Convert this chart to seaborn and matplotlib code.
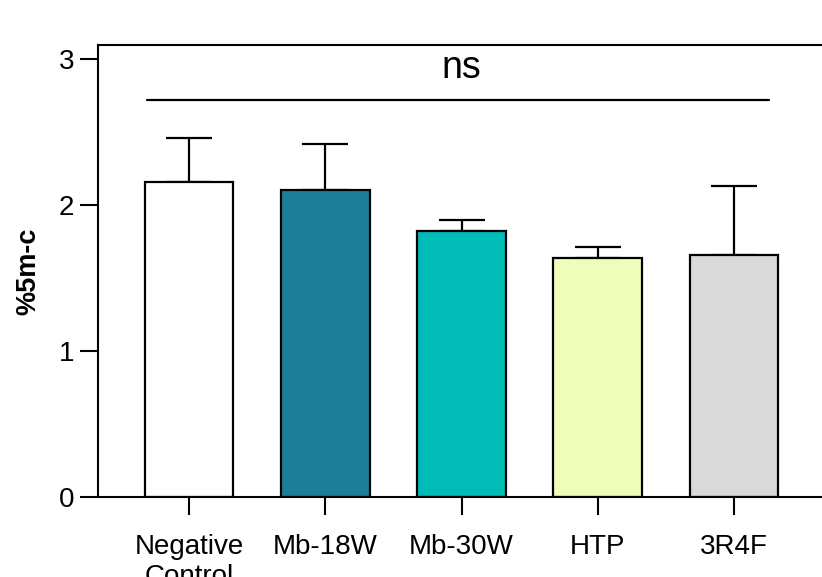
import matplotlib
matplotlib.use("Agg")
import matplotlib.pyplot as plt
import numpy as np
import pandas as pd
import seaborn as sns

groups = ["Negative\nControl", "Mb-18W", "Mb-30W", "HTP", "3R4F"]
means = [2.16, 2.105, 1.825, 1.64, 1.66]
sd_upper = [0.30, 0.315, 0.07, 0.075, 0.47]
colors = ["#ffffff", "#1b7f98", "#00bcb7", "#eefdb9", "#d9d9d9"]

sns.set_style("ticks")
plt.rcParams["font.family"] = ["Liberation Sans", "DejaVu Sans"]
plt.rcParams["text.color"] = "black"

df = pd.DataFrame({"group": groups, "mean": means})

fig = plt.figure(figsize=(8.22, 5.77), dpi=100)
ax = fig.add_axes([98 / 822, 80 / 577, 727 / 822, 452.5 / 577])

sns.barplot(data=df, x="group", y="mean", hue="group", palette=colors,
            saturation=1, legend=False, width=0.65, edgecolor="black",
            linewidth=1.6, errorbar=None, ax=ax, zorder=2)

xpos = np.arange(len(groups))
ax.errorbar(xpos, means, yerr=[np.zeros(len(sd_upper)), sd_upper],
            fmt="none", ecolor="black", elinewidth=1.6, capsize=16.5,
            capthick=1.6, zorder=1)

# significance bar
ax.plot([-0.31, 4.26], [2.72, 2.72], color="black", lw=1.6, clip_on=False)
ax.text(2, 2.87, "ns", ha="center", va="baseline", fontsize=27, color="black")

ax.set_xlim(-0.67, 4.67)
ax.set_ylim(0, 3.10)
ax.set_yticks([0, 1, 2, 3])
ax.set_xlabel("")
ax.set_ylabel("")
fig.text(28 / 822, 1 - 271 / 577, "%5m-c", rotation=90, ha="center",
         va="center", fontsize=19.5, fontweight="bold", color="black")

for s in ax.spines.values():
    s.set_linewidth(1.5)
    s.set_color("black")
ax.tick_params(axis="both", length=13, width=1.5, labelsize=20, colors="black")
ax.tick_params(axis="y", pad=4)
ax.tick_params(axis="x", pad=14)
ax.grid(False)

fig.savefig("out.png", dpi=100)
